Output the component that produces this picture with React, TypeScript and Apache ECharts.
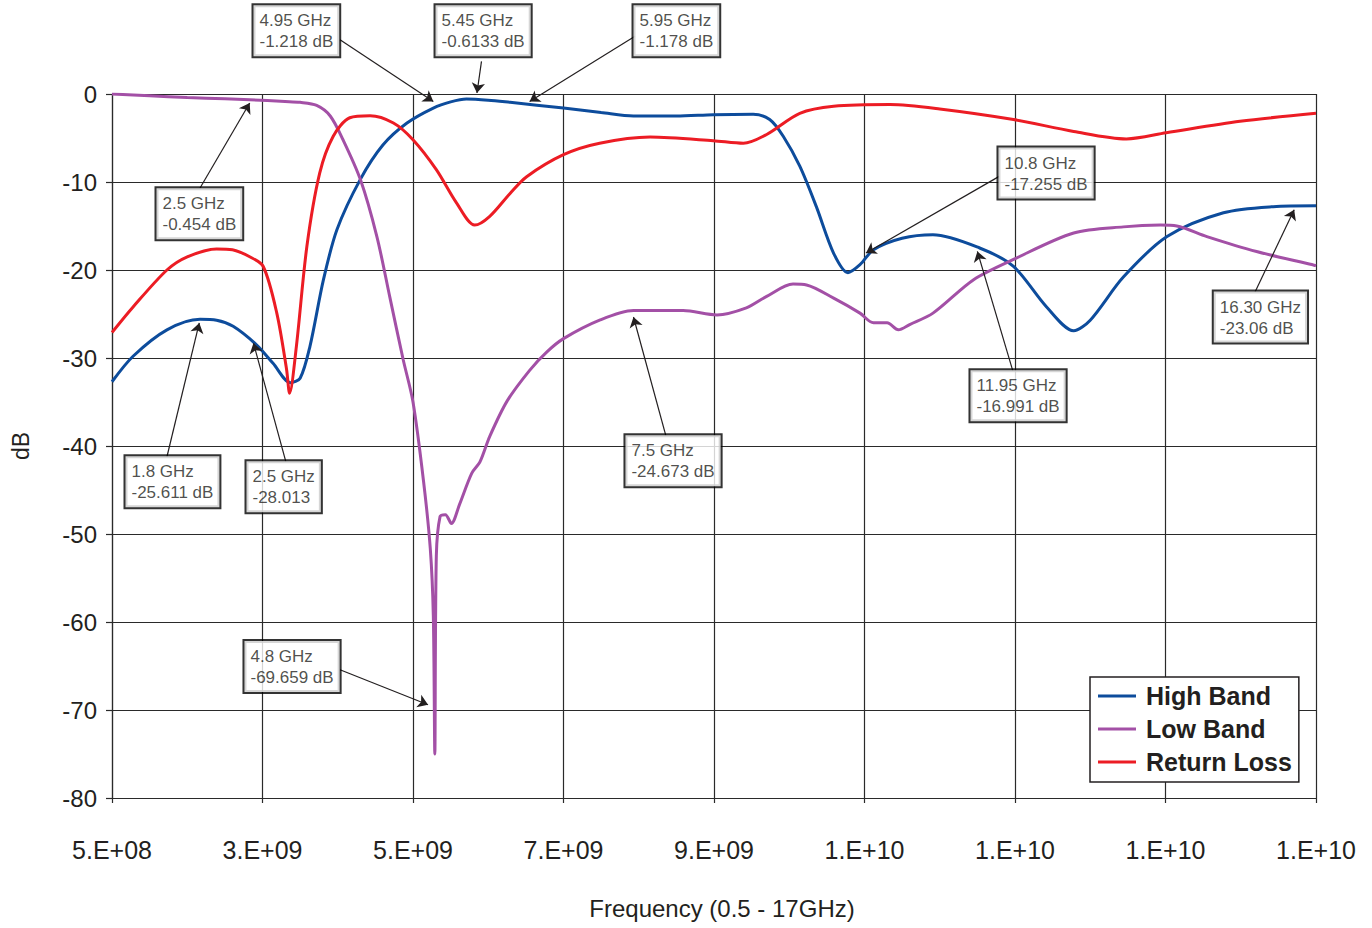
import React, { useEffect, useRef } from "react";
import * as echarts from "echarts";

// ---------- data (frequency in GHz, level in dB) ----------
const FREQ_START = 0.5; // axis origin in GHz

const xTickLabels = ["5.E+08", "3.E+09", "5.E+09", "7.E+09", "9.E+09", "1.E+10", "1.E+10", "1.E+10", "1.E+10"];

const seriesNames = ["High Band", "Low Band", "Return Loss"];

const highBandFreq = [0.5, 0.78, 1.23, 1.67, 1.89, 2.11, 2.42, 2.64, 2.87, 3.0, 3.13, 3.31, 3.49, 3.8, 4.1, 4.42, 4.77, 5.0, 5.21, 5.5, 5.79, 6.5, 7.0, 7.43, 8.0, 8.49, 9.02, 9.24, 9.42, 9.64, 9.86, 10.09, 10.28, 10.44, 10.62, 11.0, 11.41, 12.03, 12.48, 12.92, 13.28, 13.5, 13.94, 14.52, 15.27, 15.93, 16.5];
const highBandDb = [-32.7, -29.8, -26.8, -25.6, -25.7, -26.4, -28.5, -30.6, -32.8, -32.3, -28.7, -21.1, -15.4, -9.7, -5.8, -3.3, -1.6, -0.9, -0.57, -0.7, -0.95, -1.6, -2.1, -2.5, -2.5, -2.35, -2.3, -2.9, -4.8, -8.2, -12.8, -18.1, -20.3, -19.4, -17.7, -16.4, -16.0, -17.5, -19.6, -24.2, -26.9, -25.7, -20.8, -16.2, -13.5, -12.8, -12.7];

const lowBandFreq = [0.5, 1.0, 1.5, 2.0, 2.33, 2.8, 3.0, 3.22, 3.4, 3.57, 3.8, 4.02, 4.19, 4.37, 4.5, 4.64, 4.73, 4.77, 4.79, 4.81, 4.86, 4.93, 5.01, 5.12, 5.28, 5.39, 5.52, 5.75, 6.05, 6.28, 6.5, 6.98, 7.43, 8.09, 8.54, 8.93, 9.2, 9.55, 9.73, 10.09, 10.44, 10.62, 10.8, 10.95, 11.1, 11.41, 11.95, 12.48, 13.28, 13.94, 14.43, 14.65, 15.05, 15.71, 16.5];
const lowBandDb = [0, -0.2, -0.4, -0.55, -0.65, -0.85, -0.95, -1.3, -2.5, -5.2, -9.7, -16.2, -23.0, -30.2, -35.0, -44.0, -51.7, -59.3, -75.0, -52.5, -48.0, -47.8, -48.8, -46.6, -43.1, -41.8, -38.9, -34.9, -31.4, -29.3, -27.8, -25.7, -24.6, -24.6, -25.1, -24.3, -23.0, -21.6, -21.7, -23.2, -24.9, -26.0, -26.0, -26.8, -26.2, -24.9, -21.1, -18.8, -15.8, -15.1, -14.9, -15.0, -16.2, -17.9, -19.5];

const returnLossFreq = [0.5, 0.78, 1.23, 1.5, 1.89, 2.1, 2.33, 2.51, 2.69, 2.82, 2.86, 2.95, 3.09, 3.26, 3.44, 3.66, 3.93, 4.24, 4.5, 4.81, 5.08, 5.32, 5.52, 5.79, 6.01, 6.5, 6.98, 7.65, 8.49, 8.89, 9.2, 9.64, 10.09, 10.84, 11.5, 12.48, 13.28, 13.98, 14.51, 15.49, 16.5];
const returnLossDb = [-27.1, -24.2, -20.0, -18.5, -17.6, -17.7, -18.5, -19.6, -24.9, -31.3, -34.0, -28.7, -17.3, -9.0, -4.8, -2.7, -2.47, -3.3, -5.2, -8.6, -12.4, -14.9, -13.9, -11.3, -9.4, -6.9, -5.6, -4.9, -5.3, -5.6, -4.6, -2.2, -1.4, -1.2, -1.7, -2.9, -4.25, -5.1, -4.4, -3.1, -2.2];

// annotation callouts (text, box top-left anchor, arrow start and tip, all in GHz / dB)
const annotationTexts = [
  "4.95 GHz\n-1.218 dB",
  "5.45 GHz\n-0.6133 dB",
  "5.95 GHz\n-1.178 dB",
  "2.5 GHz\n-0.454 dB",
  "10.8 GHz\n-17.255 dB",
  "16.30 GHz\n-23.06 dB",
  "11.95 GHz\n-16.991 dB",
  "7.5 GHz\n-24.673 dB",
  "1.8 GHz\n-25.611 dB",
  "2.5 GHz\n-28.013",
  "4.8 GHz\n-69.659 dB",
];
const boxFreq = [2.387, 4.806, 7.437, 1.098, 12.287, 15.148, 11.915, 7.33, 0.686, 2.294, 2.267];
const boxDb = [10.03, 10.03, 10.03, -10.76, -6.14, -22.5, -31.44, -38.83, -41.22, -41.78, -62.22];
const arrowFromFreq = [3.53, 5.41, 7.45, 1.67, 12.29, 15.69, 12.47, 7.86, 1.23, 2.81, 3.53];
const arrowFromDb = [6.17, 3.7, 6.55, -10.68, -9.36, -22.5, -31.44, -38.83, -41.22, -41.78, -65.42];
const arrowToFreq = [4.77, 5.35, 6.05, 2.33, 10.52, 16.21, 12.0, 7.43, 1.66, 2.38, 4.7];
const arrowToDb = [-0.84, 0.11, -0.84, -1.02, -18.07, -13.15, -17.89, -25.34, -26.02, -28.3, -69.4];

// ---------- styles ----------
const FONT = "'Liberation Sans', Arial, Helvetica, sans-serif";
const TEXT = "#231f20";
const GRID = "#2a2a2a";
const COLORS = ["#0D4C9C", "#A350A6", "#EC1C24"];

const toXY = (fs: number[], ds: number[]) => fs.map((f, i) => [f - FREQ_START, ds[i]]);

export default function App() {
  const ref = useRef<HTMLDivElement>(null);

  useEffect(() => {
    if (!ref.current) return;
    const chart = echarts.init(ref.current, null, { renderer: "svg" });

    const curveData = [
      toXY(highBandFreq, highBandDb),
      toXY(lowBandFreq, lowBandDb),
      toXY(returnLossFreq, returnLossDb),
    ];

    const lineSeries = seriesNames.map((name, i) => ({
      name,
      type: "line",
      data: curveData[i],
      showSymbol: false,
      symbol: "none",
      smooth: 0.3,
      color: COLORS[i],
      lineStyle: { color: COLORS[i], width: 3 },
      z: 2,
      silent: true,
    }));

    const option: any = {
      animation: false,
      backgroundColor: "#ffffff",
      textStyle: { fontFamily: FONT, color: TEXT },
      grid: { left: 112, right: 56, top: 94, bottom: 130, containLabel: false, outerBoundsMode: "none" },
      legend: {
        data: seriesNames,
        orient: "vertical",
        left: 1090,
        top: 677,
        padding: [6, 7, 7, 8],
        icon: "rect",
        itemWidth: 38,
        itemHeight: 3,
        itemGap: 7,
        backgroundColor: "#ffffff",
        borderColor: TEXT,
        borderWidth: 1.5,
        selectedMode: false,
        textStyle: { fontSize: 25, fontWeight: "bold", color: TEXT, fontFamily: FONT, lineHeight: 26, padding: [0, 0, 0, 5] },
      },
      xAxis: {
        type: "value",
        min: 0,
        max: 16,
        interval: 2,
        name: "Frequency (0.5 - 17GHz)",
        nameLocation: "middle",
        nameGap: 98,
        nameTextStyle: { fontSize: 24, color: TEXT, fontFamily: FONT, padding: [0, 0, 0, 16] },
        axisLine: { show: true, onZero: false, lineStyle: { color: GRID, width: 1.2 } },
        axisTick: { show: true, length: 5, lineStyle: { color: GRID, width: 1.2 } },
        axisLabel: {
          fontSize: 25,
          color: TEXT,
          margin: 39,
          fontFamily: FONT,
          formatter: (v: number) => xTickLabels[Math.round(v / 2)] ?? "",
        },
        splitLine: { show: true, lineStyle: { color: GRID, width: 1.2 } },
      },
      yAxis: {
        type: "value",
        min: -80,
        max: 0,
        interval: 10,
        name: "dB",
        nameLocation: "middle",
        nameGap: 80,
        nameTextStyle: { fontSize: 23, color: TEXT, fontFamily: FONT },
        axisLine: { show: true, onZero: false, lineStyle: { color: GRID, width: 1.2 } },
        axisTick: { show: true, length: 6, lineStyle: { color: GRID, width: 1.2 } },
        axisLabel: { fontSize: 24, color: TEXT, margin: 15, fontFamily: FONT },
        splitLine: { show: true, lineStyle: { color: GRID, width: 1.2 } },
      },
      series: [
        ...lineSeries,
        {
          type: "lines",
          coordinateSystem: "cartesian2d",
          clip: false,
          silent: true,
          z: 5,
          symbol: ["none", "arrow"],
          symbolSize: 10,
          lineStyle: { color: TEXT, width: 1.2, opacity: 1, curveness: 0 },
          data: annotationTexts.map((_, i) => ({
            coords: [
              [arrowFromFreq[i] - FREQ_START, arrowFromDb[i]],
              [arrowToFreq[i] - FREQ_START, arrowToDb[i]],
            ],
          })),
        },
        {
          type: "scatter",
          clip: false,
          silent: true,
          z: 6,
          symbol: "rect",
          symbolSize: 1,
          itemStyle: { color: "rgba(0,0,0,0)" },
          data: annotationTexts.map((_, i) => [boxFreq[i] - FREQ_START, boxDb[i]]),
          label: {
            show: true,
            position: [0, 0],
            align: "left",
            verticalAlign: "top",
            formatter: (p: any) => annotationTexts[p.dataIndex],
            fontSize: 17,
            lineHeight: 21,
            fontFamily: FONT,
            color: TEXT,
            backgroundColor: "#ffffff",
            borderColor: "#000000",
            borderWidth: 2,
            padding: [5, 6, 4, 6],
          },
        },
      ],
    };

    chart.setOption(option);
    return () => chart.dispose();
  }, []);

  return (
    <div
      ref={ref}
      style={{ position: "fixed", left: 0, top: 0, width: 1372, height: 928, background: "#ffffff" }}
    />
  );
}
